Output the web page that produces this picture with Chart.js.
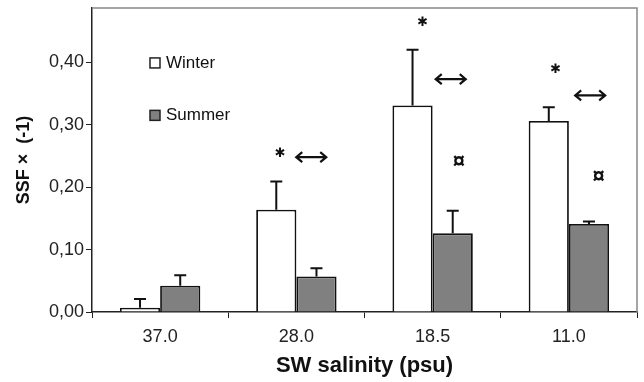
<!DOCTYPE html>
<html>
<head>
<meta charset="utf-8">
<script src="https://cdn.jsdelivr.net/npm/chart.js@4.4.1/dist/chart.umd.min.js"></script>
<style>
  html, body { margin: 0; padding: 0; background: #fff; }
  #wrap { width: 644px; height: 382px; }
</style>
</head>
<body>
<div id="wrap"><canvas id="chart" width="644" height="382"></canvas></div>
<script>
const salinity = ["37.0", "28.0", "18.5", "11.0"];
const winter = [0.007, 0.164, 0.331, 0.306];
const summer = [0.042, 0.057, 0.126, 0.141];
const winterSd = [0.014, 0.045, 0.089, 0.022];
const summerSd = [0.017, 0.013, 0.036, 0.004];
const yTicks = [0, 0.1, 0.2, 0.3, 0.4];

// significance marks: category index, bar (0 winter, 1 summer, 0.5 between), y value
const stars = [[1, 0.1, 0.254], [2, 0.25, 0.464], [3, 0.17, 0.389]];
const arrows = [[1, 0.87, 0.248], [2, 0.95, 0.373], [3, 1.03, 0.347]];
const currency = [[2, 1.15, 0.24], [3, 1.24, 0.216]];

const FONT = "'Liberation Sans', Arial, sans-serif";

function barX(chart, cat, pos) {
  // pos 0 = winter bar centre, 1 = summer bar centre
  const meta0 = chart.getDatasetMeta(0).data[cat];
  const meta1 = chart.getDatasetMeta(1).data[cat];
  return meta0.x + (meta1.x - meta0.x) * pos;
}

const extras = {
  id: "extras",
  afterDatasetsDraw(chart) {
    const ctx = chart.ctx;
    const y = chart.scales.y;
    const area = chart.chartArea;
    ctx.save();

    // error bars, upward only
    [winterSd, summerSd].forEach((sd, d) => {
      const vals = d === 0 ? winter : summer;
      chart.getDatasetMeta(d).data.forEach((bar, i) => {
        const top = y.getPixelForValue(vals[i]);
        const cap = y.getPixelForValue(vals[i] + sd[i]);
        ctx.strokeStyle = "#111";
        ctx.lineWidth = 2;
        ctx.beginPath();
        ctx.moveTo(bar.x, top);
        ctx.lineTo(bar.x, cap);
        ctx.moveTo(bar.x - 6, cap);
        ctx.lineTo(bar.x + 6, cap);
        ctx.stroke();
      });
    });

    // top and right frame
    ctx.strokeStyle = "#888";
    ctx.lineWidth = 1.5;
    ctx.beginPath();
    ctx.moveTo(area.left, area.top);
    ctx.lineTo(area.right, area.top);
    ctx.lineTo(area.right, area.bottom);
    ctx.stroke();

    // stars
    ctx.fillStyle = "#111";
    ctx.textAlign = "center";
    ctx.textBaseline = "middle";
    ctx.font = "bold 13px 'DejaVu Sans'";
    stars.forEach(([c, p, v]) => {
      ctx.fillText("\u2731", barX(chart, c, p), y.getPixelForValue(v));
    });

    // double arrows
    ctx.strokeStyle = "#111";
    ctx.lineWidth = 2.2;
    arrows.forEach(([c, p, v]) => {
      const cx = barX(chart, c, p);
      const cy = y.getPixelForValue(v);
      const h = 15;
      ctx.beginPath();
      ctx.moveTo(cx - h, cy);
      ctx.lineTo(cx + h, cy);
      ctx.moveTo(cx - h + 6, cy - 5);
      ctx.lineTo(cx - h, cy);
      ctx.lineTo(cx - h + 6, cy + 5);
      ctx.moveTo(cx + h - 6, cy - 5);
      ctx.lineTo(cx + h, cy);
      ctx.lineTo(cx + h - 6, cy + 5);
      ctx.stroke();
    });

    // currency marks
    ctx.font = "bold 22px " + FONT;
    currency.forEach(([c, p, v]) => {
      ctx.fillText("\u00a4", barX(chart, c, p), y.getPixelForValue(v));
    });

    // legend inside the plot
    const items = [["Winter", "#fff", 0.399], ["Summer", "#808080", 0.315]];
    ctx.textAlign = "left";
    ctx.font = "17px " + FONT;
    items.forEach(([label, color, v]) => {
      const ly = y.getPixelForValue(v);
      const lx = area.left + 58;
      ctx.fillStyle = color;
      ctx.fillRect(lx, ly - 5, 10, 10);
      ctx.strokeStyle = "#222";
      ctx.lineWidth = 1.5;
      ctx.strokeRect(lx, ly - 5, 10, 10);
      ctx.fillStyle = "#111";
      ctx.fillText(label, lx + 16, ly);
    });

    ctx.restore();
  }
};

new Chart(document.getElementById("chart"), {
  type: "bar",
  data: {
    labels: salinity,
    datasets: [
      { label: "Winter", data: winter, backgroundColor: "#fff", borderColor: "#111", borderWidth: 1.8 },
      { label: "Summer", data: summer, backgroundColor: "#808080", borderColor: "#111", borderWidth: 1.8 }
    ]
  },
  plugins: [extras],
  options: {
    responsive: false,
    animation: false,
    layout: { padding: { top: 8, right: 7, left: 0, bottom: 0 } },
    categoryPercentage: 0.59,
    barPercentage: 1.0,
    plugins: { legend: { display: false }, tooltip: { enabled: false } },
    scales: {
      x: {
        grid: { offset: true, drawOnChartArea: false, drawTicks: true, tickLength: 6, color: "#222", lineWidth: 1 },
        border: { color: "#222", width: 1.5 },
        ticks: { font: { family: FONT, size: 18 }, color: "#222", padding: 8 },
        title: { display: true, text: "SW salinity (psu)", font: { family: FONT, size: 22, weight: "bold" }, color: "#111", padding: { top: 2, bottom: 3 } },
        afterFit(scale) { scale.height = 70; scale.paddingLeft = 0; scale.paddingRight = 0; }
      },
      y: {
        min: 0,
        max: 0.487,
        afterBuildTicks(scale) { scale.ticks = yTicks.map(v => ({ value: v })); },
        grid: { drawOnChartArea: false, drawTicks: true, tickLength: 6, color: "#222", lineWidth: 1 },
        border: { color: "#222", width: 1.5 },
        ticks: {
          font: { family: FONT, size: 18 }, color: "#222", padding: 2,
          callback: v => v.toFixed(2).replace(".", ",")
        },
        title: { display: true, text: "SSF \u00d7  (-1)", font: { family: FONT, size: 18, weight: "bold" }, color: "#111", padding: { top: 13, bottom: 2 } },
        afterFit(scale) { scale.width = 92; scale.paddingTop = 0; scale.paddingBottom = 0; }
      }
    }
  }
});
</script>
</body>
</html>
